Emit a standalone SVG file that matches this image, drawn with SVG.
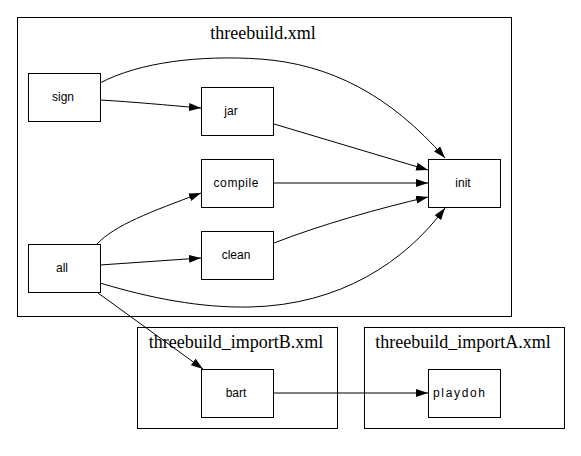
<svg xmlns="http://www.w3.org/2000/svg" width="581" height="456" viewBox="0 0 581 456">
<style>
.cl{fill:none;stroke:#000;stroke-width:1}
.nd{fill:#fff;stroke:#000;stroke-width:1}
.ct{font-family:"Liberation Serif","Times New Roman",serif;font-size:18px;text-anchor:middle;fill:#000}
.nt{font-family:"Liberation Sans",Arial,sans-serif;font-size:12px;text-anchor:middle;fill:#000}
.e{fill:none;stroke:#000;stroke-width:1;marker-end:url(#ah)}
</style>
<defs>
<marker id="ah" markerUnits="userSpaceOnUse" markerWidth="13" markerHeight="9" refX="12" refY="4" orient="auto">
<path d="M0,0 L12,4 L0,8 z" fill="#000"/>
</marker>
</defs>
<rect width="581" height="456" fill="#fff"/>
<g id="cluster_main">
<rect class="cl" x="17.5" y="17.5" width="494" height="299"/>
<text class="ct" x="263" y="39">threebuild.xml</text>
</g>
<g id="cluster_importB">
<rect class="cl" x="137.5" y="327.5" width="200" height="101"/>
<text class="ct" x="236" y="348">threebuild_importB.xml</text>
</g>
<g id="cluster_importA">
<rect class="cl" x="364.5" y="327.5" width="200" height="101"/>
<text class="ct" x="463" y="348">threebuild_importA.xml</text>
</g>
<g id="connectors">
<path class="e" d="M100,83 C140,62 200,55 260,59 C330,64 390,95 445,158"/>
<path class="e" d="M100,100 C135,102 165,105 201,108"/>
<path class="e" d="M274,124 L428,170"/>
<path class="e" d="M274,183 L428,183"/>
<path class="e" d="M274,243 C320,225 380,208 428,197"/>
<path class="e" d="M97,244 C115,225 150,212 201,193"/>
<path class="e" d="M100,265 L201,258"/>
<path class="e" d="M100,283 C150,298 200,308 250,307 C340,305 405,262 445,208"/>
<path class="e" d="M98,293 L203,369"/>
<path class="e" d="M274,393 L428,393"/>
</g>
<g id="sign"><rect class="nd" x="28.5" y="73.5" width="72" height="48"/><text class="nt" x="63" y="101">sign</text></g>
<g id="jar"><rect class="nd" x="201.5" y="87.5" width="72" height="48"/><text class="nt" x="231" y="115">jar</text></g>
<g id="compile"><rect class="nd" x="201.5" y="159.5" width="72" height="48"/><text class="nt" x="236" y="187" textLength="45">compile</text></g>
<g id="clean"><rect class="nd" x="201.5" y="231.5" width="72" height="48"/><text class="nt" x="236" y="259">clean</text></g>
<g id="all"><rect class="nd" x="28.5" y="244.5" width="72" height="48"/><text class="nt" x="62" y="272">all</text></g>
<g id="init"><rect class="nd" x="428.5" y="159.5" width="72" height="48"/><text class="nt" x="463" y="187">init</text></g>
<g id="bart"><rect class="nd" x="201.5" y="369.5" width="72" height="48"/><text class="nt" x="236" y="397">bart</text></g>
<g id="playdoh"><rect class="nd" x="428.5" y="369.5" width="72" height="48"/><text class="nt" x="459" y="397" textLength="52">playdoh</text></g>
</svg>
